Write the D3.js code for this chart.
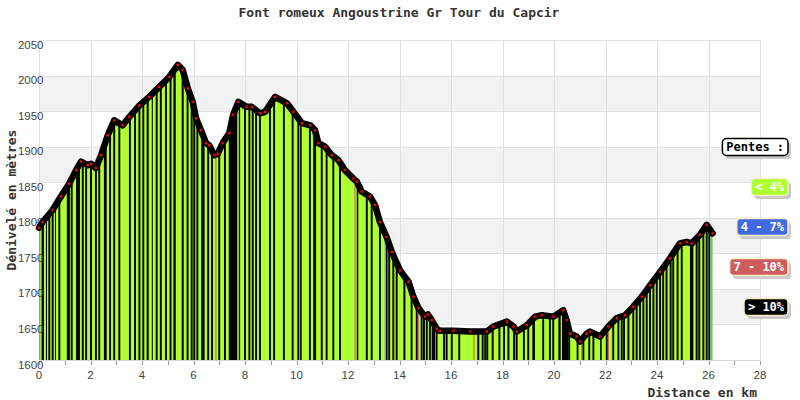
<!DOCTYPE html>
<html><head><meta charset="utf-8">
<script src="https://cdn.jsdelivr.net/npm/d3@7"></script>
<style>body{margin:0;background:#fff}svg{display:block}</style>
</head><body><svg id="c" width="800" height="400"></svg>
<script>
const title = "Font romeux Angoustrine Gr Tour du Capcir";
const yTitle = "Dénivelé en mètres";
const xTitle = "Distance en km";
const distances = [0.00,0.14,0.53,0.85,1.17,1.44,1.63,1.89,2.02,2.21,2.41,2.67,2.92,3.25,3.51,3.90,4.28,4.67,5.06,5.39,5.58,5.78,5.97,6.10,6.29,6.49,6.61,6.81,6.94,7.13,7.39,7.54,7.74,8.06,8.26,8.58,8.78,9.17,9.63,9.88,10.21,10.54,10.72,10.85,11.11,11.37,11.63,11.88,12.21,12.34,12.53,12.85,13.05,13.24,13.50,13.70,14.02,14.35,14.54,14.74,14.99,15.10,15.25,15.44,15.57,16.09,16.74,17.39,17.64,18.17,18.43,18.55,18.95,19.27,19.52,19.98,20.36,20.49,20.62,20.88,21.01,21.27,21.40,21.79,22.11,22.44,22.76,23.08,23.41,23.73,24.12,24.50,24.89,25.15,25.35,25.67,25.93,26.16];
const elevations = [1786,1794,1811,1830,1848,1867,1879,1874,1876,1870,1888,1916,1937,1930,1942,1958,1970,1984,1998,2015,2008,1982,1963,1940,1923,1905,1902,1888,1890,1905,1919,1945,1963,1956,1956,1947,1949,1970,1961,1949,1933,1930,1923,1905,1900,1888,1881,1867,1855,1851,1837,1830,1818,1794,1773,1752,1726,1710,1689,1673,1661,1664,1656,1644,1641,1641,1640,1640,1647,1654,1647,1640,1649,1661,1663,1661,1670,1656,1637,1633,1626,1637,1640,1633,1647,1659,1663,1675,1689,1705,1724,1743,1764,1766,1764,1776,1790,1778];
const xTickValues = [0,1,2,3,4,5,6,7,8,9,10,11,12,13,14,15,16,17,18,19,20,21,22,23,24,25,26,27,28];
const xTickLabels = [0,2,4,6,8,10,12,14,16,18,20,22,24,26,28];
const yTickLabels = [1600,1650,1700,1750,1800,1850,1900,1950,2000,2050];
const steepKm = [0.40,0.53,0.79,1.27,1.70,1.83,2.21,2.34,2.76,2.92,3.12,3.53,3.73,3.90,4.05,4.57,4.73,4.93,5.11,5.77,5.93,6.03,6.15,6.57,6.72,7.00,7.22,8.00,8.17,8.30,8.43,8.58,8.97,9.13,9.51,9.85,10.07,10.52,10.98,11.17,11.43,11.69,12.73,12.92,13.24,13.50,13.60,13.76,13.89,14.47,14.67,14.86,14.95,15.06,15.18,15.44,15.73,15.83,16.03,16.32,17.06,17.23,17.33,17.41,17.62,17.88,18.06,18.23,18.45,18.55,18.83,19.00,19.58,19.84,19.97,20.59,21.14,21.37,21.53,22.05,22.30,22.50,22.63,22.72,22.89,23.08,23.21,23.34,23.47,23.60,23.73,23.86,23.99,24.12,24.24,24.37,24.53,24.63,24.80,24.96,25.54,25.64,25.80,25.93,26.03];
const steepBlocks = [[0.10,0.19],[0.27,0.31],[0.62,0.66],[1.08,1.20],[1.44,1.59],[1.98,2.06],[2.52,2.63],[4.18,4.26],[4.38,4.42],[5.22,5.31],[5.54,5.62],[6.30,6.43],[7.37,7.70],[7.76,7.81],[10.14,10.20],[10.65,10.76],[12.34,12.40],[14.15,14.23],[15.25,15.38],[19.16,19.26],[20.17,20.26],[20.31,20.56],[20.88,20.95],[21.79,21.85],[25.28,25.41]];
const midKm = [6.87,12.27,14.73,16.89,17.58,21.08,22.11];
const blueBlocks = [[0.00,0.05],[13.42,13.46],[26.08,26.16]];
const legendLabels = ["Pentes :", "< 4%", "4 - 7%", "7 - 10%", "> 10%"];
const legendColors = ["#ffffff", "#adff2f", "#4169e1", "#cd5c5c", "#000000"];

const svg = d3.select("#c");
const x = d3.scaleLinear().domain([0, 28]).range([39, 760]);
const y = d3.scaleLinear().domain([1600, 2050]).range([360, 40]);
const pts = distances.map((d, i) => [d, elevations[i]]);

// bands
for (let i = 0; i < yTickLabels.length - 1; i++) {
  if (i % 2 === 1) {
    svg.append("rect").attr("x", x(0)).attr("width", x(28) - x(0))
      .attr("y", y(yTickLabels[i + 1])).attr("height", y(yTickLabels[i]) - y(yTickLabels[i + 1]))
      .attr("fill", "#f2f2f2");
  }
}
// grid
svg.append("g").selectAll("line").data(yTickLabels).join("line")
  .attr("x1", x(0)).attr("x2", x(28))
  .attr("y1", d => Math.round(y(d)) + 0.5).attr("y2", d => Math.round(y(d)) + 0.5)
  .attr("stroke", "#e0e0e0");
svg.append("g").selectAll("line").data(xTickLabels).join("line")
  .attr("y1", y(2050)).attr("y2", y(1600))
  .attr("x1", d => Math.round(x(d)) + 0.5).attr("x2", d => Math.round(x(d)) + 0.5)
  .attr("stroke", "#e0e0e0");

// area layers
const area = d3.area().x(d => x(d[0])).y0(y(1600)).y1(d => y(d[1]));
const defs = svg.append("defs");
function clipFor(id, ranges) {
  const cp = defs.append("clipPath").attr("id", id);
  cp.selectAll("rect").data(ranges).join("rect")
    .attr("x", d => x(d[0])).attr("width", d => Math.max(1, x(d[1]) - x(d[0])))
    .attr("y", 0).attr("height", 400);
}
const steepRanges = steepKm.map(k => [k - 0.037, k + 0.037]).concat(steepBlocks);
const midRanges = midKm.map(k => [k - 0.02, k + 0.02]);
clipFor("cSteep", steepRanges);
clipFor("cMid", midRanges);
clipFor("cBlue", blueBlocks);
svg.append("path").datum(pts).attr("d", area).attr("fill", "#adff2f");
svg.append("path").datum(pts).attr("d", area).attr("fill", "#000").attr("clip-path", "url(#cSteep)");
svg.append("path").datum(pts).attr("d", area).attr("fill", "#cd5c5c").attr("clip-path", "url(#cMid)");
svg.append("path").datum(pts).attr("d", area).attr("fill", "#6fa8dc").attr("clip-path", "url(#cBlue)");

// x axis line & ticks
svg.append("line").attr("x1", x(0)).attr("x2", x(28)).attr("y1", 360.5).attr("y2", 360.5).attr("stroke", "#d8d8d8");
svg.append("g").selectAll("line").data(xTickValues).join("line")
  .attr("x1", d => Math.round(x(d)) + 0.5).attr("x2", d => Math.round(x(d)) + 0.5)
  .attr("y1", 361).attr("y2", 365).attr("stroke", "#999");
svg.append("g").selectAll("text").data(xTickLabels).join("text")
  .attr("x", d => x(d)).attr("y", 378.5).attr("text-anchor", "middle")
  .attr("font-family", "Liberation Sans, Arial, sans-serif").attr("font-size", 11.5).attr("fill", "#444")
  .text(d => d);
svg.append("g").selectAll("text").data(yTickLabels).join("text")
  .attr("x", 43.5).attr("y", d => y(d) + 8.6).attr("text-anchor", "end")
  .attr("font-family", "Liberation Sans, Arial, sans-serif").attr("font-size", 11.5).attr("fill", "#444")
  .text(d => d);

// profile line + markers
const line = d3.line().x(d => x(d[0])).y(d => y(d[1]));
svg.append("path").datum(pts).attr("d", line).attr("fill", "none").attr("stroke", "#000")
  .attr("stroke-width", 6.5).attr("stroke-linejoin", "round").attr("stroke-linecap", "round");
svg.append("g").selectAll("rect").data(pts).join("rect")
  .attr("x", d => x(d[0]) - 1.2).attr("y", d => y(d[1]) - 1.2).attr("width", 2.4).attr("height", 2.4)
  .attr("fill", "#ff0000");

// titles
const mono = "DejaVu Sans Mono, monospace";
svg.append("text").attr("x", 399).attr("y", 17).attr("text-anchor", "middle")
  .attr("font-family", mono).attr("font-weight", "bold").attr("font-size", 13).attr("fill", "#333").text(title);
svg.append("text").attr("transform", "translate(16,200) rotate(-90)").attr("text-anchor", "middle")
  .attr("font-family", mono).attr("font-weight", "bold").attr("font-size", 13).attr("fill", "#333").text(yTitle);
svg.append("text").attr("x", 757).attr("y", 396.5).attr("text-anchor", "end")
  .attr("font-family", mono).attr("font-weight", "bold").attr("font-size", 13).attr("fill", "#333").text(xTitle);

// legend
const lg = svg.append("g");
legendLabels.forEach((lab, i) => {
  const cy = 147 + i * 40;
  const w = lab.length * 7.2 + 8;
  const x1 = 788 - w;
  lg.append("rect").attr("x", x1 + 3).attr("y", cy - 8 + 3).attr("width", w).attr("height", 17).attr("rx", 4)
    .attr("fill", "#c8c8c8");
  lg.append("rect").attr("x", x1).attr("y", cy - 8.5).attr("width", w).attr("height", 17).attr("rx", 4)
    .attr("fill", legendColors[i]).attr("stroke", i === 0 ? "#000" : "#f5efc8").attr("stroke-width", 1.5);
  lg.append("text").attr("x", x1 + w / 2).attr("y", cy + 4.3).attr("text-anchor", "middle")
    .attr("font-family", mono).attr("font-weight", "bold").attr("font-size", 12)
    .attr("fill", i === 0 ? "#000" : "#fff").text(lab);
});
</script>
</body></html>
